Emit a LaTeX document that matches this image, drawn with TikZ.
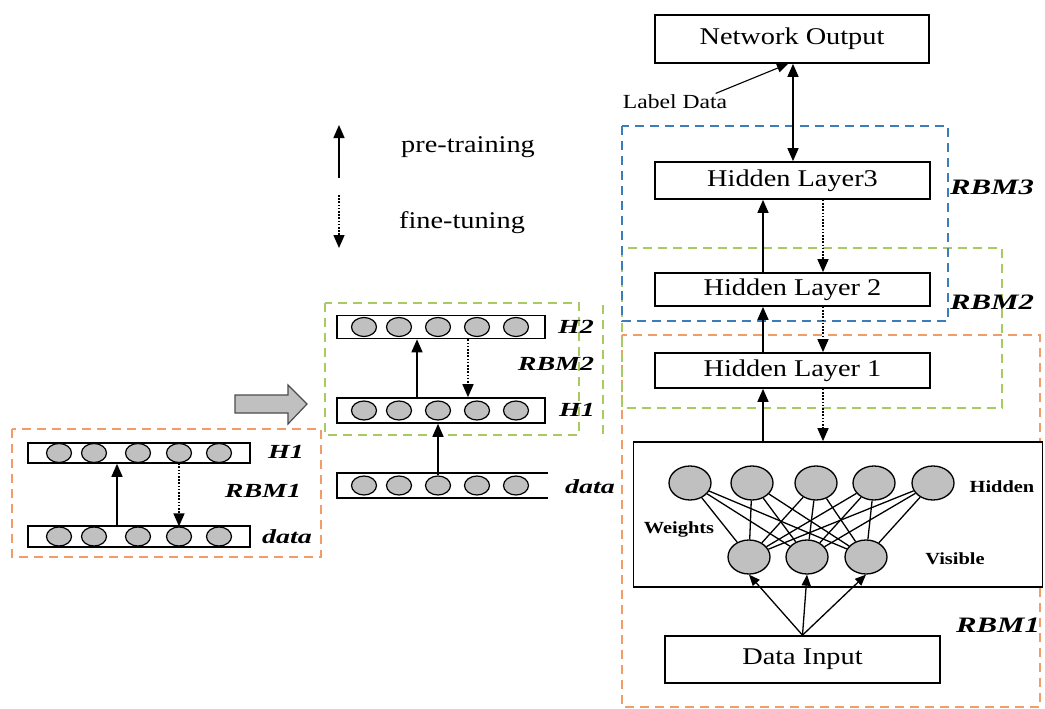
\documentclass[tikz,border=0pt]{standalone}
\usepackage{fontspec}
\setmainfont{Liberation Serif}[FakeStretch=1.18]
\newfontfamily\tagfont{Liberation Serif}[FakeStretch=1.4]
\newfontfamily\wfont{Liberation Serif}[FakeStretch=1.2]
\usetikzlibrary{shapes.geometric,arrows.meta}
\definecolor{rbmorange}{RGB}{240,158,105}
\definecolor{rbmblue}{RGB}{60,125,185}
\definecolor{rbmgreen}{RGB}{168,202,100}
\definecolor{unitgray}{RGB}{192,192,192}
\begin{document}
\begin{tikzpicture}[x=1pt,y=-1pt,
  bar/.style={draw, line width=1.6pt, inner sep=0pt, fill=white},
  unit/.style={ellipse, draw, line width=1.2pt, fill=unitgray, inner sep=0pt,
               minimum width=25pt, minimum height=19pt},
  bigunit/.style={unit, line width=1.3pt, minimum width=42pt, minimum height=34pt},
  layer/.style={draw, line width=1.7pt, inner sep=0pt, fill=white,
                font=\fontsize{24}{28}\selectfont},
  tag/.style={font=\tagfont\bfseries\itshape\fontsize{20}{24}\selectfont},
  bigtag/.style={font=\tagfont\bfseries\itshape\fontsize{22}{26}\selectfont},
  wtag/.style={font=\wfont\bfseries\fontsize{17}{20}\selectfont},
  legend/.style={font=\fontsize{24}{28}\selectfont},
  tip/.tip={Triangle[length=13pt,width=11pt]},
  smalltip/.tip={Triangle[length=11pt,width=9pt]},
  pre/.style={-tip, line width=1.5pt},
  fine/.style={-tip, line width=1.5pt, dash pattern=on 1.6pt off 1.6pt},
  region/.style={line width=1.4pt, dash pattern=on 9pt off 6pt},
]
\useasboundingbox (0,0) rectangle (1045,709);

% ---------- RBM1 on its own ----------
\draw[region, rbmorange] (12,429) rectangle (321,557);
\node[bar, minimum width=222pt, minimum height=20pt] (lH) at (139,453) {};
\node[bar, minimum width=222pt, minimum height=21pt] (lD) at (139,536.5) {};
\foreach \x [count=\i] in {59,94,138,179,219} {
  \node[unit] (lh\i) at (\x,453) {};
  \node[unit] (ld\i) at (\x,536.5) {};
}
\draw[pre] (lD.north -| 117,0) -- (lH.south -| 117,0);
\draw[fine] (lh4.south) -- (ld4.north);
\node[tag] (lHt) at (286,452) {H1};
\node[tag] (lRt) at (263,491) {RBM1};
\node[tag] (lDt) at (287,537) {data};

% ---------- stacking arrow ----------
\draw[line width=1.2pt, draw=black!70, fill=unitgray]
  (235,395) -- (288,395) -- (288,385) -- (307,404) -- (288,424) -- (288,413)
  -- (235,413) -- cycle;

% ---------- RBM2 stacked on RBM1 ----------
\draw[region, rbmgreen] (325,303) rectangle (579,435);
\node[bar, minimum width=208pt, minimum height=23pt] (mH2) at (441,327) {};
\node[bar, minimum width=208pt, minimum height=25pt] (mH1) at (441,410.5) {};
\coordinate (mDa) at (337,473);
\coordinate (mDb) at (337,498);
\draw[line width=1.6pt] (548,473) -- (mDa) -- (mDb) -- (548,498);
\foreach \x [count=\i] in {364,399,438,477,516} {
  \node[unit] (m2\i) at (\x,327) {};
  \node[unit] (m1\i) at (\x,410.5) {};
  \node[unit] (md\i) at (\x,485.5) {};
}
\draw[pre] (mH1.north -| 417,0) -- (mH2.south -| 417,0);
\draw[fine] (mH2.south -| 468,0) -- (mH1.north -| 468,0);
\draw[pre] (md3.north) -- (mH1.south -| md3);
\node[tag] (mH2t) at (576,327) {H2};
\node[tag] (mRt) at (556,364) {RBM2};
\node[tag] (mH1t) at (577,410) {H1};
\node[tag] (mDt) at (590,487) {data};

% ---------- legend ----------
\coordinate (pA) at (339,178);
\coordinate (pB) at (339,125);
\coordinate (fA) at (339,195);
\coordinate (fB) at (339,248);
\draw[pre] (pA) -- (pB);
\draw[fine] (fA) -- (fB);
\node[legend] (pT) at (468,147) {pre-training};
\node[legend] (fT) at (462,223) {fine-tuning};

% ---------- deep belief network ----------
\draw[region, rbmgreen] (603,305) -- (603,440);
\draw[region, rbmorange] (622,335) rectangle (1040,707);
\draw[region, rbmgreen] (622,248) rectangle (1002,408);
\draw[region, rbmblue] (622,126) rectangle (948,321);

\node[layer, minimum width=274pt, minimum height=48pt] (no) at (792,39) {Network Output};
\node[layer, minimum width=275pt, minimum height=37pt] (hl3) at (792.5,180.5) {Hidden Layer3};
\node[layer, minimum width=275pt, minimum height=33pt] (hl2) at (792.5,289.5) {Hidden Layer 2};
\node[layer, minimum width=275pt, minimum height=35pt] (hl1) at (792.5,370.5) {Hidden Layer 1};
\node[draw, line width=1.7pt, fill=white, minimum width=409pt, minimum height=145pt] (rbm) at (838,514.5) {};
\node[layer, minimum width=275pt, minimum height=47pt] (din) at (802.5,659.5) {Data Input};

\node[font=\fontsize{20}{24}\selectfont] (ld) at (675,102) {Label Data};
\draw[-smalltip, line width=1.1pt]
  ([xshift=-15pt,yshift=-2pt]ld.north east) -- (no.south -| 788,0);
\draw[tip-tip, line width=1.5pt]
  (no.south -| 793,0) -- (hl3.north -| 793,0);

\draw[pre] (hl2.north -| 763,0) -- (hl3.south -| 763,0);
\draw[fine] (hl3.south -| 823,0) -- (hl2.north -| 823,0);
\draw[pre] (hl1.north -| 763,0) -- (hl2.south -| 763,0);
\draw[fine] (hl2.south -| 823,0) -- (hl1.north -| 823,0);
\draw[pre] (rbm.north -| 763,0) -- (hl1.south -| 763,0);
\draw[fine] (hl1.south -| 823,0) -- (rbm.north -| 823,0);

\foreach \x [count=\i] in {690,752,816,874,933}
  \node[bigunit] (rh\i) at (\x,483) {};
\foreach \x [count=\j] in {749,807,866}
  \node[bigunit] (rv\j) at (\x,557) {};
\foreach \i in {1,...,5}
  \foreach \j in {1,2,3}
    \draw[line width=1.3pt] (rh\i) -- (rv\j);
\foreach \j in {1,2,3}
  \draw[-smalltip, line width=1.3pt] (din.north) -- (rv\j.south);

\node[wtag] (hidt) at (1002,487) {Hidden};
\node[wtag] (wt) at (679,529) {Weights};
\node[wtag] (vist) at (955,559) {Visible};
\node[bigtag] (r3) at (992,187) {RBM3};
\node[bigtag] (r2) at (992,302) {RBM2};
\node[bigtag] (r1) at (998,625) {RBM1};
\end{tikzpicture}
\end{document}
